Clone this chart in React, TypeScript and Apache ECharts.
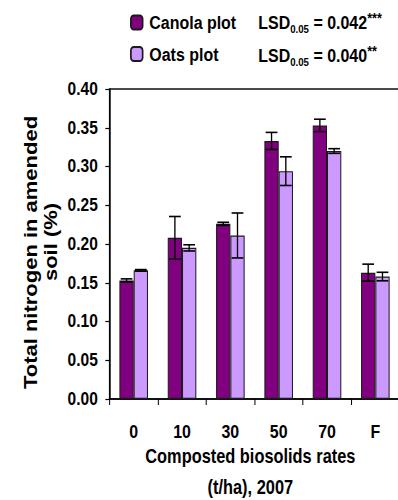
import React, { useEffect, useRef } from "react";
import * as echarts from "echarts";

const categories = ["0", "10", "30", "50", "70", "F"];
const seriesNames = ["Canola plot", "Oats plot"];
const canolaValues = [0.153, 0.208, 0.226, 0.333, 0.353, 0.163];
const oatsValues = [0.166, 0.195, 0.211, 0.294, 0.320, 0.158];
const canolaErrors = [0.002, 0.0275, 0.002, 0.011, 0.008, 0.011];
const oatsErrors = [0.001, 0.004, 0.029, 0.0185, 0.003, 0.0055];
const yTicks = { min: 0, max: 0.4, interval: 0.05 };
const lsdCanola = "0.042";
const lsdOats = "0.040";
const lsdSigCanola = "***";
const lsdSigOats = "**";

const SQUEEZE = 0.84;
const FONT = "'Liberation Sans', Arial, Helvetica, sans-serif";
const BAR_W = 17;

function errorSeries(values: number[], errs: number[], offset: number) {
  return {
    type: "custom",
    z: 5,
    silent: true,
    data: values.map((v, i) => [i, v, errs[i]]),
    encode: { x: 0, y: 1 },
    renderItem: (params: any, api: any) => {
      const i = api.value(0);
      const v = api.value(1);
      const e = api.value(2);
      const top = api.coord([i, v + e]);
      const bot = api.coord([i, v - e]);
      const x = top[0] + offset;
      const half = 7;
      const style = { stroke: "#000", lineWidth: 1.6 };
      return {
        type: "group",
        children: [
          { type: "line", shape: { x1: x, y1: top[1], x2: x, y2: bot[1] }, style },
          { type: "line", shape: { x1: x - half, y1: top[1], x2: x + half, y2: top[1] }, style },
          { type: "line", shape: { x1: x - half, y1: bot[1], x2: x + half, y2: bot[1] }, style },
        ],
      };
    },
  };
}

function lsdText(value: string, sig: string) {
  return `{m|LSD}{s|0.05}{m| = ${value}}{p|${sig}}`;
}

const lsdRich = {
  m: { fontSize: 19, fontWeight: "bold", fontFamily: FONT, color: "#000", lineHeight: 22, verticalAlign: "bottom" },
  s: { fontSize: 11.5, fontWeight: "bold", fontFamily: FONT, color: "#000", lineHeight: 12, verticalAlign: "bottom", padding: [0, 0, -3, 0] },
  p: { fontSize: 15, fontWeight: "bold", fontFamily: FONT, color: "#000", lineHeight: 14, verticalAlign: "top" },
};

export default function App() {
  const ref = useRef<HTMLDivElement>(null);
  useEffect(() => {
    if (!ref.current) return;
    const chart = echarts.init(ref.current, null, { renderer: "svg" });
    chart.setOption({
      animation: false,
      backgroundColor: "#fff",
      textStyle: { fontFamily: FONT },
      grid: {
        left: 130.4,
        top: 89,
        width: 345.2,
        height: 310,
        show: true,
        borderColor: "#111",
        borderWidth: 1.5,
        backgroundColor: "transparent",
      },
      legend: {
        orient: "vertical",
        left: 154.8,
        top: 13,
        padding: 0,
        itemWidth: 14,
        itemHeight: 14,
        itemGap: 12.5,
        data: seriesNames,
        textStyle: {
          fontSize: 19,
          fontWeight: "bold",
          fontFamily: FONT,
          color: "#000",
          lineHeight: 19,
          padding: [0, 0, 0, 3],
        },
      },
      xAxis: {
        type: "category",
        data: categories,
        axisLine: { lineStyle: { color: "#000", width: 1.5 } },
        axisTick: { show: true, length: 6, lineStyle: { color: "#000", width: 1.2 } },
        axisLabel: { margin: 23, fontSize: 19, fontWeight: "bold", color: "#000", fontFamily: FONT },
        splitLine: { show: false },
      },
      yAxis: {
        type: "value",
        min: yTicks.min,
        max: yTicks.max,
        interval: yTicks.interval,
        axisLine: { show: true, lineStyle: { color: "#000", width: 1.5 } },
        axisTick: { show: true, length: 5, lineStyle: { color: "#000", width: 1.2 } },
        axisLabel: {
          margin: 14,
          fontSize: 18.5,
          fontWeight: "bold",
          color: "#000",
          fontFamily: FONT,
          formatter: (v: number) => v.toFixed(2),
        },
        splitLine: { show: false },
      },
      series: [
        {
          name: seriesNames[0],
          type: "bar",
          data: canolaValues,
          barWidth: BAR_W,
          barGap: "0%",
          itemStyle: { color: "#800080", borderColor: "#1a1a1a", borderWidth: 1.2 },
        },
        {
          name: seriesNames[1],
          type: "bar",
          data: oatsValues,
          barWidth: BAR_W,
          barGap: "0%",
          itemStyle: { color: "#CC99FF", borderColor: "#1a1a1a", borderWidth: 1.2 },
        },
        errorSeries(canolaValues, canolaErrors, -BAR_W / 2),
        errorSeries(oatsValues, oatsErrors, BAR_W / 2),
      ],
      graphic: [
        {
          type: "text",
          x: 307.5,
          y: 10,
          style: { text: lsdText(lsdCanola, lsdSigCanola), rich: lsdRich, textAlign: "left", textVerticalAlign: "top" },
        },
        {
          type: "text",
          x: 307.5,
          y: 43,
          style: { text: lsdText(lsdOats, lsdSigOats), rich: lsdRich, textAlign: "left", textVerticalAlign: "top" },
        },
        {
          type: "text",
          x: 36,
          y: 252.5,
          rotation: Math.PI / 2,
          style: {
            text: "Total nitrogen in amended",
            fontSize: 22,
            fontWeight: "bold",
            fontFamily: FONT,
            fill: "#000",
            textAlign: "center",
            textVerticalAlign: "middle",
          },
        },
        {
          type: "text",
          x: 60.5,
          y: 242,
          rotation: Math.PI / 2,
          style: {
            text: "soil (%)",
            fontSize: 22,
            fontWeight: "bold",
            fontFamily: FONT,
            fill: "#000",
            textAlign: "center",
            textVerticalAlign: "middle",
          },
        },
        {
          type: "text",
          x: 298,
          y: 441,
          style: {
            text: "Composted biosolids rates\n(t/ha), 2007",
            fontSize: 19.5,
            fontWeight: "bold",
            fontFamily: FONT,
            fill: "#000",
            lineHeight: 31,
            textAlign: "center",
            textVerticalAlign: "top",
          },
        },
      ],
    });
    return () => chart.dispose();
  }, []);
  return (
    <div
      style={{
        position: "fixed",
        left: 0,
        top: 0,
        width: 398,
        height: 500,
        overflow: "hidden",
        background: "#fff",
      }}
    >
      <div
        ref={ref}
        style={{ width: 480, height: 500, transform: `scaleX(${SQUEEZE})`, transformOrigin: "0 0" }}
      />
    </div>
  );
}
